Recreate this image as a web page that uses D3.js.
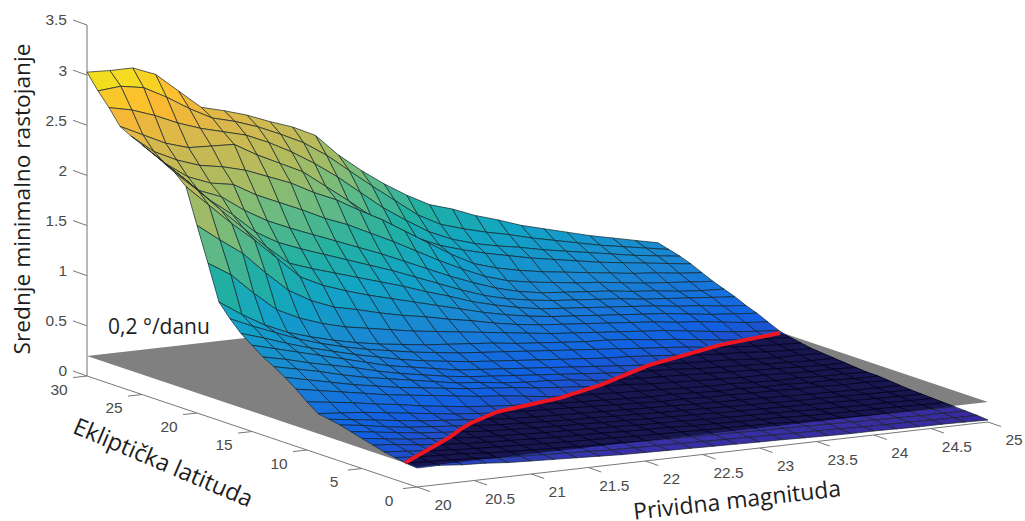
<!DOCTYPE html>
<html lang="sr">
<head>
<meta charset="UTF-8">
<title>Srednje minimalno rastojanje</title>
<script src="https://d3js.org/d3.v7.min.js"></script>
<style>
  html, body { margin: 0; padding: 0; background: #fff; }
  svg { display: block; }
  .tick-label { font-family: "Liberation Sans", Arial, sans-serif; font-size: 15.5px; fill: #4a4a4a; }
  .axis-title { font-family: "Open Sans", sans-serif; fill: #1d1d1d; }
</style>
</head>
<body>
<svg id="chart" width="1025" height="521"></svg>
<script>
const magTicks = [20, 20.5, 21, 21.5, 22, 22.5, 23, 23.5, 24, 24.5, 25];
const latTicks = [0, 5, 10, 15, 20, 25, 30];
const zTicks = [0, 0.5, 1, 1.5, 2, 2.5, 3, 3.5];

// grid columns, 0.2 mag apart
const magnitudes = [20, 20.2, 20.4, 20.6, 20.8, 21, 21.2, 21.4, 21.6, 21.8, 22, 22.2, 22.4, 22.6, 22.8, 23, 23.2, 23.4, 23.6, 23.8, 24, 24.2, 24.4, 24.6, 24.8, 25];
// grid rows, latitude 30 down to 0
const latitudes = [30, 29, 28, 27, 26, 25, 24, 23, 22, 21, 20, 19, 18, 17, 16, 15, 14, 13, 12, 11, 10, 9, 8, 7, 6, 5, 4, 3, 2, 1, 0];
const distances = [
  [3.03,3.02,3.02,2.93,2.74,2.55,2.49,2.42,2.33,2.25,2.14,1.92,1.74,1.58,1.44,1.32,1.25,1.16,1.09,1.01,.95,.89,.83,.78,.73,.68],
  [2.88,2.90,2.86,2.74,2.60,2.48,2.42,2.34,2.24,2.13,1.98,1.80,1.62,1.45,1.28,1.16,1.09,1.03,.98,.92,.87,.82,.77,.73,.69,.65],
  [2.75,2.70,2.62,2.52,2.44,2.38,2.32,2.22,2.10,1.96,1.80,1.62,1.44,1.29,1.15,1.05,.98,.93,.89,.84,.80,.76,.72,.68,.65,.62],
  [2.60,2.49,2.38,2.31,2.30,2.29,2.16,2.05,1.94,1.77,1.60,1.42,1.27,1.15,1.05,.98,.92,.87,.82,.78,.74,.70,.67,.64,.61,.58],
  [2.54,2.36,2.25,2.17,2.13,2.07,1.98,1.89,1.77,1.67,1.54,1.42,1.28,1.14,1.00,.88,.81,.76,.72,.69,.66,.63,.60,.58,.55,.53],
  [2.49,2.28,2.12,2.03,1.99,1.86,1.76,1.66,1.55,1.46,1.35,1.24,1.12,1.00,.89,.79,.72,.68,.65,.62,.60,.57,.54,.52,.50,.48],
  [2.44,2.23,2.02,1.93,1.77,1.64,1.54,1.45,1.36,1.27,1.18,1.08,.98,.88,.79,.71,.65,.61,.59,.57,.55,.52,.50,.47,.45,.44],
  [2.38,2.18,1.96,1.79,1.59,1.46,1.37,1.29,1.21,1.13,1.05,.96,.87,.78,.70,.64,.60,.57,.55,.53,.51,.48,.46,.44,.42,.40],
  [2.32,2.12,1.90,1.69,1.48,1.29,1.21,1.14,1.07,1.00,.93,.85,.78,.70,.64,.59,.55,.53,.51,.49,.47,.45,.42,.40,.37,.35],
  [2.22,2.01,1.80,1.61,1.40,1.19,1.08,1.00,.93,.87,.81,.75,.69,.63,.58,.54,.51,.49,.47,.45,.43,.41,.38,.35,.33,.31],
  [1.87,1.70,1.54,1.32,1.12,.99,.90,.85,.79,.74,.70,.65,.61,.56,.52,.49,.47,.45,.43,.41,.39,.36,.34,.31,.28,.26],
  [1.53,1.39,1.18,.99,.88,.80,.74,.70,.66,.62,.59,.56,.53,.50,.47,.44,.42,.40,.38,.36,.34,.31,.28,.25,.23,.21],
  [1.18,1.03,.90,.80,.73,.67,.62,.58,.55,.52,.50,.48,.46,.43,.41,.39,.37,.36,.34,.31,.29,.26,.23,.21,.19,.18],
  [1.05,.95,.86,.77,.70,.64,.59,.55,.51,.48,.45,.43,.41,.39,.37,.35,.33,.31,.29,.27,.25,.22,.20,.18,.17,.16],
  [.94,.87,.79,.72,.66,.60,.55,.50,.46,.43,.40,.38,.36,.34,.32,.30,.28,.27,.25,.23,.21,.19,.18,.16,.15,.14],
  [.86,.80,.74,.68,.62,.56,.50,.46,.42,.38,.36,.34,.32,.30,.28,.26,.24,.22,.20,.19,.18,.17,.15,.14,.14,.13],
  [.78,.73,.67,.62,.57,.51,.46,.42,.38,.35,.33,.31,.29,.27,.25,.23,.21,.20,.19,.17,.16,.15,.14,.13,.12,.12],
  [.72,.67,.62,.56,.51,.47,.43,.39,.35,.33,.30,.28,.27,.25,.22,.20,.19,.18,.17,.16,.15,.14,.13,.12,.11,.11],
  [.65,.60,.55,.50,.46,.42,.39,.36,.33,.31,.29,.26,.24,.22,.20,.19,.17,.16,.15,.14,.13,.13,.12,.11,.11,.10],
  [.57,.53,.49,.45,.41,.38,.35,.32,.29,.27,.24,.21,.19,.18,.17,.16,.15,.14,.13,.13,.12,.11,.11,.10,.10,.09],
  [.48,.45,.42,.38,.35,.31,.28,.25,.23,.21,.20,.18,.17,.16,.15,.14,.14,.13,.12,.12,.11,.11,.10,.10,.09,.09],
  [.40,.38,.36,.33,.30,.27,.24,.22,.20,.19,.18,.17,.16,.15,.14,.13,.13,.12,.12,.11,.11,.10,.10,.09,.09,.08],
  [.38,.35,.32,.29,.26,.24,.22,.20,.18,.17,.16,.155,.145,.14,.13,.125,.115,.11,.105,.10,.09,.085,.08,.075,.07,.07],
  [.36,.33,.29,.26,.24,.22,.20,.18,.17,.16,.15,.145,.135,.13,.12,.115,.11,.10,.095,.09,.085,.08,.075,.07,.065,.06],
  [.33,.30,.27,.24,.22,.20,.18,.17,.16,.15,.145,.135,.13,.12,.115,.11,.10,.095,.09,.085,.08,.075,.07,.065,.06,.055],
  [.30,.27,.24,.22,.20,.18,.17,.16,.15,.145,.135,.13,.12,.115,.11,.10,.095,.09,.085,.08,.07,.065,.06,.06,.055,.05],
  [.27,.25,.22,.20,.18,.17,.16,.15,.14,.135,.13,.12,.115,.11,.10,.095,.09,.085,.08,.07,.065,.06,.06,.055,.05,.045],
  [.24,.22,.20,.18,.17,.16,.15,.14,.13,.125,.12,.11,.105,.10,.095,.09,.085,.08,.07,.065,.06,.055,.05,.05,.045,.04],
  [.22,.20,.19,.18,.16,.15,.14,.13,.12,.115,.11,.10,.095,.09,.085,.08,.075,.07,.065,.06,.055,.05,.045,.04,.04,.035],
  [.20,.19,.18,.17,.15,.14,.13,.12,.11,.10,.095,.09,.085,.08,.075,.07,.065,.06,.055,.05,.045,.04,.04,.035,.03,.03],
  [.19,.19,.17,.16,.14,.13,.12,.11,.10,.09,.085,.08,.075,.07,.065,.06,.057,.05,.045,.04,.04,.035,.03,.03,.025,.02]
];

// the 0,2 deg/day level and where the surface crosses it
const planeLevel = 0.2;
const redMags = [20, 20.4, 20.8, 21, 21.2, 21.6, 22.28, 22.8, 23.5, 24.36, 24.98];
const redLats = [1.1, 3.2, 5.3, 6.5, 7.6, 9.3, 10.65, 12.36, 15.24, 17.67, 18.7];

// colours sampled along the surface height
const colorZ = [0, 0.1, 0.15, 0.3, 0.6, 1, 1.3, 1.7, 2, 2.4, 2.7, 3.03];
const colorHex = ["#38299a", "#3a30a8", "#2b3fb8", "#1160e2", "#1a84d4", "#12a4c6", "#22b0a2", "#6dbb80", "#a9bb62", "#d8b84c", "#fdb832", "#f2e61c"];

const svg = d3.select("#chart");

// orthographic view: screen offset per data axis
const origin = [417, 487];
const magX = d3.scaleLinear().domain([20, 25]).range([0, 571]);
const magY = d3.scaleLinear().domain([20, 25]).range([0, -65]);
const latX = d3.scaleLinear().domain([0, 30]).range([0, -330]);
const latY = d3.scaleLinear().domain([0, 30]).range([0, -111]);
const zY = d3.scaleLinear().domain([0, 3.5]).range([0, -351]);

function project(m, l, z) {
  return [origin[0] + magX(m) + latX(l), origin[1] + magY(m) + latY(l) + zY(z)];
}

const color = d3.scaleLinear().domain(colorZ).range(colorHex).clamp(true);
const line = d3.line();

// axes
const axisG = svg.append("g").attr("fill", "none");
const axisLines = [
  [project(20, 30, 0), project(20, 30, 3.5)],
  [project(20, 30, 0), project(20, 0, 0)],
  [project(20, 0, 0), project(25, 0, 0)]
];
axisG.selectAll("path.axis").data(axisLines).enter().append("path")
  .attr("class", "axis")
  .attr("d", line)
  .attr("stroke", (d, i) => i === 0 ? "#9a9a9a" : "#777")
  .attr("stroke-width", (d, i) => i === 0 ? 1.4 : 1);

axisG.selectAll("path.ztick").data(zTicks).enter().append("path")
  .attr("class", "ztick")
  .attr("stroke", "#777")
  .attr("d", d => { const p = project(20, 30, d); return line([p, [p[0] - 14, p[1] - 5]]); });
axisG.selectAll("path.lattick").data(latTicks).enter().append("path")
  .attr("class", "lattick")
  .attr("stroke", "#777")
  .attr("d", d => { const p = project(20, d, 0); return line([p, [p[0] - 14, p[1] + 1.6]]); });
axisG.selectAll("path.magtick").data(magTicks).enter().append("path")
  .attr("class", "magtick")
  .attr("stroke", "#777")
  .attr("d", d => { const p = project(d, 0, 0); return line([p, [p[0] + 13, p[1] + 4.5]]); });

svg.selectAll("text.zlabel").data(zTicks).enter().append("text")
  .attr("class", "zlabel tick-label")
  .attr("text-anchor", "end")
  .attr("x", d => project(20, 30, d)[0] - 20)
  .attr("y", d => project(20, 30, d)[1] - 5)
  .attr("dy", "0.35em")
  .text(d => d);
svg.selectAll("text.latlabel").data(latTicks).enter().append("text")
  .attr("class", "latlabel tick-label")
  .attr("text-anchor", "middle")
  .attr("x", d => project(20, d, 0)[0] - 28)
  .attr("y", d => project(20, d, 0)[1] + 13.5)
  .attr("dy", "0.35em")
  .text(d => d);
svg.selectAll("text.maglabel").data(magTicks).enter().append("text")
  .attr("class", "maglabel tick-label")
  .attr("text-anchor", "middle")
  .attr("x", d => project(d, 0, 0)[0] + 26)
  .attr("y", d => project(d, 0, 0)[1] + 18)
  .attr("dy", "0.35em")
  .text(d => d);

// grey plane sits behind the surface
svg.append("path")
  .attr("fill", "#808080")
  .attr("d", line([project(20, 30, planeLevel), project(25, 30, planeLevel), project(25, 0, planeLevel), project(20, 0, planeLevel)]) + "Z");

// cells, far to near so the painter's order works
const cells = [];
latitudes.slice(0, -1).forEach((lat, r) => {
  for (let c = magnitudes.length - 2; c >= 0; c--) {
    const corners = [[r, c], [r, c + 1], [r + 1, c + 1], [r + 1, c]];
    cells.push({
      z: d3.mean(corners, k => distances[k[0]][k[1]]),
      pts: corners.map(k => project(magnitudes[k[1]], latitudes[k[0]], distances[k[0]][k[1]]))
    });
  }
});

svg.append("g").selectAll("path").data(cells).enter().append("path")
  .attr("d", d => line(d.pts) + "Z")
  .attr("fill", d => color(d.z))
  .attr("stroke", "#13232b")
  .attr("stroke-width", 0.7)
  .attr("stroke-linejoin", "round");

// part of the surface under the plane: same cells, darkened and clipped
const darkOutline = redMags.map((m, i) => project(m, redLats[i], planeLevel));
darkOutline.push(project(25, 0, planeLevel), project(20, 0, planeLevel));
svg.append("clipPath").attr("id", "underPlane").append("path").attr("d", line(darkOutline) + "Z");
svg.append("g").attr("clip-path", "url(#underPlane)")
  .selectAll("path").data(cells.filter(d => d.z < 0.4)).enter().append("path")
  .attr("d", d => line(d.pts) + "Z")
  .attr("fill", "#17164f")
  .attr("stroke", "#05051c")
  .attr("stroke-width", 0.7);

svg.append("path")
  .attr("fill", "none")
  .attr("stroke", "#ee1620")
  .attr("stroke-width", 4)
  .attr("stroke-linejoin", "round")
  .attr("d", line(redMags.map((m, i) => project(m, redLats[i], planeLevel))));

// titles
svg.append("text").attr("class", "axis-title")
  .attr("transform", "translate(30,199) rotate(-90)")
  .attr("text-anchor", "middle").attr("font-size", 22.7)
  .text("Srednje minimalno rastojanje");
svg.append("text").attr("class", "axis-title")
  .attr("transform", "translate(160,470) rotate(23)")
  .attr("text-anchor", "middle").attr("font-size", 23.5)
  .text("Ekliptička latituda");
svg.append("text").attr("class", "axis-title")
  .attr("transform", "translate(738,508) rotate(-6.5)")
  .attr("text-anchor", "middle").attr("font-size", 23)
  .text("Prividna magnituda");
svg.append("text").attr("class", "axis-title")
  .attr("x", 108).attr("y", 334).attr("font-size", 21)
  .text("0,2 °/danu");
</script>
</body>
</html>
